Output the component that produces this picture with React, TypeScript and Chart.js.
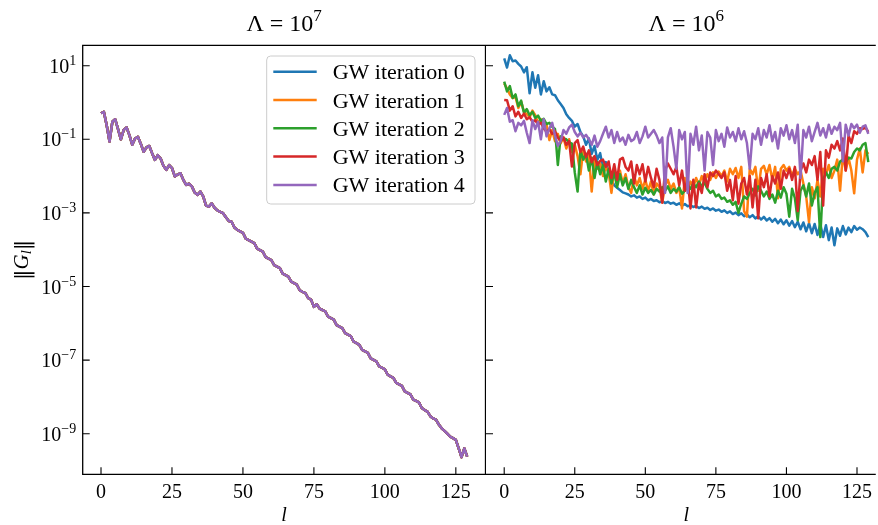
import React, { useEffect, useRef } from "react";
import { Chart, registerables } from "chart.js";
Chart.register(...registerables);

// ---------- data ----------
const ells: number[] = Array.from({ length: 130 }, (_, i) => i);

const seriesLabels = ["GW iteration 0", "GW iteration 1", "GW iteration 2", "GW iteration 3", "GW iteration 4"];
const COLORS = ["#1f77b4", "#ff7f0e", "#2ca02c", "#d62728", "#9467bd"];

const xTicks = [0, 25, 50, 75, 100, 125];
const yTicks = [1e1, 1e-1, 1e-3, 1e-5, 1e-7, 1e-9];
const yTickExponents = ["1", "\u22121", "\u22123", "\u22125", "\u22127", "\u22129"];
const panelTitleExponents = ["7", "6"];

// Lambda = 1e7 panel: all iterations coincide
const leftNorms = [
  5.1e-1, 5.6e-1, 2.4e-1, 8.7e-2, 3.0e-1, 3.5e-1, 1.9e-1, 1.0e-1, 1.8e-1, 2.1e-1,
  1.3e-1, 7.1e-2, 1.05e-1, 1.17e-1, 7.6e-2, 4.6e-2, 6.0e-2, 6.6e-2, 4.2e-2, 2.75e-2,
  3.7e-2, 3.0e-2, 1.9e-2, 1.48e-2, 2.0e-2, 1.66e-2, 9.8e-3, 1.1e-2, 1.2e-2, 7.9e-3,
  5.75e-3, 6.2e-3, 5.25e-3, 3.6e-3, 3.1e-3, 3.8e-3, 2.8e-3, 1.58e-3, 1.48e-3, 1.82e-3,
  1.38e-3, 1.17e-3, 1.07e-3, 9.8e-4, 7.6e-4, 6.0e-4, 5.75e-4, 4.0e-4, 3.47e-4, 3.16e-4,
  2.88e-4, 2.0e-4, 1.82e-4, 1.66e-4, 1.51e-4, 1.07e-4, 9.8e-5, 8.9e-5, 6.3e-5, 5.75e-5,
  5.25e-5, 3.8e-5, 3.47e-5, 3.16e-5, 2.24e-5, 2.04e-5, 1.86e-5, 1.35e-5, 1.23e-5, 1.12e-5,
  7.9e-6, 7.2e-6, 6.6e-6, 4.8e-6, 4.4e-6, 2.8e-6, 3.3e-6, 2.5e-6, 2.3e-6, 2.1e-6,
  1.51e-6, 1.38e-6, 1.26e-6, 8.9e-7, 8.1e-7, 7.4e-7, 5.4e-7, 4.9e-7, 4.5e-7, 3.16e-7,
  2.9e-7, 2.6e-7, 1.9e-7, 1.74e-7, 1.58e-7, 1.12e-7, 1.02e-7, 9.3e-8, 6.8e-8, 6.2e-8,
  5.6e-8, 4.0e-8, 3.6e-8, 3.3e-8, 2.4e-8, 2.2e-8, 2.0e-8, 1.41e-8, 1.29e-8, 1.17e-8,
  8.5e-9, 7.8e-9, 7.1e-9, 5.0e-9, 4.4e-9, 4.0e-9, 3.0e-9, 2.6e-9, 2.4e-9, 1.78e-9,
  1.41e-9, 1.2e-9, 1.0e-9, 8.3e-10, 7.6e-10, 6.8e-10, 4.0e-10, 2.3e-10, 4.0e-10, 2.4e-10,
];

// Lambda = 1e6 panel
const right0 = [
  15.8, 8.9, 19.1, 13.2, 13.8, 11.2, 9.5, 6.6, 9.1, 1.78,
  6.6, 2.5, 5.5, 1.66, 3.8, 2.0, 2.6, 1.66, 1.58, 1.15,
  9.1e-1, 7.1e-1, 4.8e-1, 3.8e-1, 3.16e-1, 2.2e-1, 2.6e-1, 1.58e-1, 1.2e-1, 7.1e-2,
  1.05e-1, 4.0e-2, 6.6e-2, 2.8e-2, 4.2e-2, 1.66e-2, 2.4e-2, 1.12e-2, 7.9e-3, 5.6e-3,
  4.8e-3, 4.2e-3, 3.6e-3, 3.4e-3, 3.16e-3, 2.8e-3, 3.0e-3, 2.6e-3, 2.8e-3, 2.4e-3,
  2.6e-3, 2.2e-3, 2.4e-3, 2.1e-3, 2.2e-3, 1.95e-3, 2.1e-3, 1.86e-3, 2.0e-3, 1.78e-3,
  1.9e-3, 1.66e-3, 1.82e-3, 1.58e-3, 1.74e-3, 1.51e-3, 1.62e-3, 1.45e-3, 1.55e-3, 1.35e-3,
  1.48e-3, 1.29e-3, 1.38e-3, 1.2e-3, 1.32e-3, 1.15e-3, 1.23e-3, 1.07e-3, 1.17e-3, 1.0e-3,
  1.1e-3, 9.3e-4, 1.02e-3, 8.7e-4, 9.8e-4, 8.1e-4, 9.1e-4, 7.6e-4, 8.7e-4, 7.1e-4,
  8.1e-4, 6.6e-4, 7.8e-4, 6.2e-4, 7.2e-4, 5.75e-4, 6.9e-4, 5.25e-4, 6.6e-4, 4.9e-4,
  6.3e-4, 4.5e-4, 6.0e-4, 4.1e-4, 5.75e-4, 3.6e-4, 5.5e-4, 3.16e-4, 5.25e-4, 2.8e-4,
  5.0e-4, 2.5e-4, 5.0e-4, 2.2e-4, 4.6e-4, 1.82e-4, 4.0e-4, 1.32e-4, 3.8e-4, 2.4e-4,
  4.4e-4, 2.6e-4, 4.0e-4, 3.0e-4, 4.4e-4, 3.5e-4, 4.0e-4, 3.6e-4, 3.0e-4, 2.2e-4,
];

const right1 = [
  3.3, 2.4, 1.66, 1.32, 1.41, 7.1e-1, 1.05, 5.6e-1, 4.8e-1, 4.0e-1,
  6.0e-1, 4.5e-1, 2.8e-1, 3.5e-1, 2.0e-1, 2.5e-1, 9.5e-2, 1.78e-1, 8.9e-2, 1.41e-1,
  7.9e-2, 1.12e-1, 5.6e-2, 1.0e-1, 4.5e-2, 7.1e-2, 3.5e-2, 1.12e-2, 5.0e-2, 2.5e-2,
  3.5e-2, 3.8e-3, 2.8e-2, 1.58e-2, 2.2e-2, 1.0e-2, 1.78e-2, 1.26e-2, 3.5e-3, 1.58e-2,
  7.9e-3, 1.41e-2, 6.3e-3, 1.12e-2, 5.0e-3, 3.5e-3, 1.0e-2, 5.6e-3, 8.9e-3, 4.5e-3,
  7.9e-3, 4.0e-3, 7.1e-3, 3.16e-3, 6.3e-3, 5.0e-3, 1.9e-3, 5.6e-3, 7.9e-3, 4.5e-3,
  6.3e-3, 3.5e-3, 5.0e-3, 1.32e-3, 8.9e-3, 4.0e-3, 7.1e-3, 5.0e-3, 8.9e-3, 5.6e-3,
  1.0e-2, 7.1e-3, 1.12e-2, 7.9e-3, 1.26e-2, 8.9e-3, 1.32e-2, 1.0e-2, 1.41e-2, 7.1e-3,
  1.58e-2, 1.12e-2, 1.66e-2, 8.9e-3, 1.78e-2, 1.12e-3, 7.9e-4, 1.58e-2, 1.12e-2, 1.78e-2,
  4.0e-3, 1.58e-2, 1.9e-2, 1.12e-2, 2.0e-2, 7.9e-3, 1.78e-2, 2.5e-3, 1.58e-2, 2.0e-2,
  1.41e-2, 1.78e-2, 1.0e-2, 1.58e-2, 1.12e-2, 1.41e-2, 6.3e-3, 2.8e-3, 5.6e-4, 5.0e-3,
  2.5e-3, 7.9e-3, 2.8e-3, 1.58e-2, 1.12e-2, 2.0e-2, 8.9e-3, 1.41e-2, 2.8e-2, 4.0e-3,
  4.0e-2, 1.41e-2, 3.16e-2, 1.41e-2, 3.4e-3, 2.8e-2, 5.6e-2, 1.26e-2, 5.0e-2, 4.0e-2,
];

const right2 = [
  3.7, 2.0, 2.8, 1.32, 1.66, 7.9e-1, 1.12, 5.25e-1, 6.6e-1, 4.5e-1,
  5.6e-1, 3.8e-1, 4.4e-1, 3.16e-1, 3.6e-1, 2.6e-1, 2.8e-1, 2.2e-1, 1.9e-1, 2.0e-2,
  1.2e-1, 1.05e-1, 1.0e-1, 8.3e-2, 7.6e-2, 1.26e-2, 3.8e-3, 5.0e-2, 2.8e-2, 4.0e-2,
  1.41e-2, 3.16e-2, 8.9e-3, 2.4e-2, 1.12e-2, 2.0e-2, 7.1e-3, 1.58e-2, 6.3e-3, 1.26e-2,
  5.0e-3, 1.12e-2, 5.6e-3, 8.9e-3, 4.5e-3, 7.9e-3, 5.0e-3, 3.5e-3, 5.6e-3, 3.16e-3,
  4.8e-3, 3.5e-3, 4.2e-3, 3.16e-3, 4.5e-3, 3.8e-3, 5.0e-3, 4.0e-3, 5.25e-3, 3.5e-3,
  4.5e-3, 3.8e-3, 5.0e-3, 3.3e-3, 4.0e-3, 5.6e-3, 4.5e-3, 6.3e-3, 5.0e-3, 7.1e-3,
  5.25e-3, 6.6e-3, 4.5e-3, 3.5e-3, 4.0e-3, 2.8e-3, 3.16e-3, 2.4e-3, 2.6e-3, 2.0e-3,
  2.2e-3, 1.66e-3, 2.0e-3, 1.0e-3, 1.78e-3, 2.8e-3, 2.4e-3, 3.5e-3, 4.5e-3, 3.0e-3,
  5.25e-3, 4.0e-3, 2.8e-3, 3.8e-3, 2.4e-3, 3.16e-3, 1.9e-3, 4.0e-3, 2.6e-3, 5.0e-3,
  3.3e-3, 7.9e-4, 4.5e-3, 2.5e-3, 6.3e-4, 4.0e-3, 5.6e-3, 2.8e-3, 6.3e-3, 1.58e-3,
  3.5e-3, 5.0e-3, 2.2e-4, 7.9e-3, 1.26e-2, 8.9e-3, 1.58e-2, 1.78e-2, 1.41e-2, 2.5e-2,
  2.8e-2, 2.4e-2, 3.16e-2, 3.0e-2, 4.5e-2, 5.6e-2, 5.0e-2, 7.1e-2, 7.9e-2, 2.4e-2,
];

const right3 = [
  1.17, 1.15, 6.0e-1, 7.9e-1, 4.2e-1, 5.6e-1, 3.8e-1, 5.0e-1, 3.5e-1, 4.0e-1,
  3.0e-1, 3.3e-1, 2.5e-1, 2.8e-1, 2.0e-1, 1.58e-1, 1.9e-1, 1.41e-1, 1.66e-1, 1.12e-1,
  8.9e-2, 1.12e-1, 7.1e-2, 8.9e-2, 1.82e-2, 7.9e-2, 9.5e-2, 4.5e-2, 6.3e-2, 3.3e-2,
  5.0e-2, 2.4e-2, 3.5e-2, 2.0e-2, 2.6e-2, 2.8e-2, 1.78e-2, 2.5e-2, 8.9e-3, 2.1e-2,
  7.9e-3, 2.8e-2, 3.16e-2, 1.78e-2, 1.41e-2, 2.5e-2, 6.3e-3, 2.0e-2, 1.12e-2, 2.1e-2,
  7.1e-3, 1.78e-2, 8.9e-3, 5.0e-3, 1.58e-2, 7.9e-3, 1.9e-3, 1.41e-2, 2.2e-2, 1.58e-2,
  1.12e-2, 1.78e-2, 5.6e-3, 1.41e-2, 4.0e-3, 8.9e-3, 1.32e-3, 7.9e-3, 1.41e-3, 6.3e-3,
  3.5e-3, 1.12e-2, 5.0e-3, 1.26e-2, 1.0e-2, 1.41e-2, 1.12e-2, 8.9e-3, 1.26e-2, 4.0e-3,
  7.9e-3, 2.2e-3, 1.0e-2, 1.78e-3, 6.3e-3, 8.9e-3, 3.16e-3, 1.0e-2, 1.41e-3, 7.9e-3,
  7.1e-4, 8.9e-3, 5.0e-3, 1.12e-2, 2.8e-3, 1.0e-2, 6.3e-3, 1.26e-2, 4.5e-3, 1.41e-2,
  8.9e-3, 1.58e-2, 7.9e-3, 1.78e-2, 1.12e-3, 1.41e-2, 2.2e-2, 1.26e-2, 2.8e-2, 2.0e-2,
  3.5e-2, 7.9e-3, 4.5e-2, 1.58e-3, 5.0e-2, 3.16e-2, 7.1e-2, 5.6e-2, 8.9e-2, 5.0e-2,
  1.05e-1, 1.41e-2, 1.26e-1, 7.9e-2, 1.66e-1, 1.41e-1, 2.0e-1, 1.9e-1, 2.1e-1, 1.58e-1,
];

const right4 = [
  4.6e-1, 7.1e-1, 3.0e-1, 3.3e-1, 1.66e-1, 2.8e-1, 2.4e-1, 3.16e-1, 1.51e-1, 7.9e-2,
  3.3e-1, 1.9e-1, 3.0e-1, 1.0e-1, 3.5e-1, 1.2e-1, 2.0e-1, 2.8e-1, 1.26e-1, 6.6e-2,
  8.9e-2, 1.78e-1, 1.41e-1, 2.1e-1, 2.5e-1, 1.58e-1, 1.2e-1, 1.51e-1, 1.12e-1, 1.32e-1,
  1.0e-1, 7.1e-2, 1.26e-1, 6.3e-2, 8.9e-2, 1.41e-1, 2.2e-1, 1.12e-1, 1.78e-1, 7.9e-2,
  1.58e-1, 8.9e-2, 1.12e-1, 7.1e-2, 1.32e-1, 8.9e-2, 1.0e-1, 1.58e-1, 7.9e-2, 1.2e-1,
  2.2e-1, 1.12e-1, 1.41e-1, 1.78e-1, 1.26e-1, 7.9e-2, 1.12e-1, 3.5e-3, 1.12e-1, 2.0e-1,
  6.3e-2, 1.58e-2, 1.78e-1, 1.0e-1, 1.58e-1, 3.5e-3, 1.41e-1, 7.1e-2, 2.2e-1, 5.0e-2,
  1.26e-1, 1.41e-2, 1.58e-1, 1.12e-1, 2.0e-2, 1.78e-1, 8.9e-2, 1.41e-1, 6.3e-2, 2.1e-1,
  1.12e-1, 1.58e-1, 8.9e-2, 2.0e-1, 1.0e-1, 1.66e-1, 7.9e-2, 1.58e-2, 1.41e-1, 1.0e-1,
  2.0e-1, 7.1e-2, 1.78e-1, 1.12e-1, 2.4e-1, 8.9e-2, 1.58e-1, 5.6e-2, 2.0e-1, 1.26e-1,
  2.4e-1, 1.0e-1, 1.78e-1, 7.9e-2, 2.5e-1, 8.9e-3, 1.78e-1, 1.12e-1, 2.2e-1, 8.9e-2,
  1.58e-1, 2.8e-1, 1.26e-1, 2.0e-1, 1.12e-1, 2.5e-1, 1.41e-1, 2.2e-1, 1.78e-1, 2.8e-1,
  2.5e-2, 2.5e-1, 1.26e-1, 2.6e-1, 2.0e-1, 2.5e-1, 1.51e-1, 2.2e-1, 2.4e-1, 1.41e-1,
];

// ---------- layout / style ----------
const Y_MIN = 7.9e-11;
const Y_MAX = 35.8;
const X_MIN = -6.45;
const X_MAX_FULL = 135.45;
const X_MAX_RIGHT = 131.65;
const SERIF = "'Liberation Serif', 'DejaVu Serif', serif";
const BARS = "'DejaVu Serif', serif";

type Piece = { text: string; font: string; dy?: number };

function drawPieces(ctx: CanvasRenderingContext2D, pieces: Piece[], x: number, y: number, align: "left" | "center" | "right") {
  let total = 0;
  const widths = pieces.map((p) => {
    ctx.font = p.font;
    const w = ctx.measureText(p.text).width;
    total += w;
    return w;
  });
  let cx = align === "left" ? x : align === "center" ? x - total / 2 : x - total;
  ctx.textAlign = "left";
  ctx.textBaseline = "alphabetic";
  pieces.forEach((p, i) => {
    ctx.font = p.font;
    ctx.fillText(p.text, cx, y + (p.dy || 0));
    cx += widths[i];
  });
}

function makeDeco(side: "left" | "right") {
  return {
    id: "deco-" + side,
    afterDraw(chart: any) {
      const { ctx, chartArea: a } = chart;
      const xs = chart.scales.x;
      const ys = chart.scales.y;
      ctx.save();
      ctx.strokeStyle = "#000";
      ctx.fillStyle = "#000";
      // spines
      ctx.lineWidth = 1.3;
      ctx.beginPath();
      if (side === "left") {
        ctx.rect(a.left, a.top, a.right - a.left, a.bottom - a.top);
      } else {
        ctx.moveTo(a.left, a.top);
        ctx.lineTo(a.right, a.top);
        ctx.moveTo(a.left, a.bottom);
        ctx.lineTo(a.right, a.bottom);
      }
      ctx.stroke();
      // inward ticks
      ctx.lineWidth = 1.1;
      ctx.beginPath();
      xTicks.forEach((v) => {
        const px = xs.getPixelForValue(v);
        ctx.moveTo(px, a.bottom);
        ctx.lineTo(px, a.bottom - 7);
      });
      yTicks.forEach((v) => {
        const py = ys.getPixelForValue(v);
        ctx.moveTo(a.left, py);
        ctx.lineTo(a.left + 7, py);
      });
      ctx.stroke();

      // y tick labels
      if (side === "left") {
        yTicks.forEach((v, i) => {
          const py = ys.getPixelForValue(v);
          drawPieces(
            ctx,
            [
              { text: "10", font: `20px ${SERIF}` },
              { text: yTickExponents[i], font: `14px ${SERIF}`, dy: -8 },
            ],
            a.left - 6.5,
            py + 7,
            "right"
          );
        });
      }

      const cx = xs.getPixelForValue((X_MIN + X_MAX_FULL) / 2);
      // title
      drawPieces(
        ctx,
        [
          { text: "\u039B", font: `24px ${SERIF}` },
          { text: " = ", font: `24px ${SERIF}` },
          { text: "10", font: `24px ${SERIF}` },
          { text: panelTitleExponents[side === "left" ? 0 : 1], font: `17px ${SERIF}`, dy: -10 },
        ],
        cx,
        31,
        "center"
      );
      // x label
      drawPieces(ctx, [{ text: "l", font: `italic 20px ${SERIF}` }], cx, 521, "center");

      if (side === "left") {
        // y label
        ctx.save();
        ctx.translate(28, (a.top + a.bottom) / 2);
        ctx.rotate(-Math.PI / 2);
        drawPieces(
          ctx,
          [
            { text: "\u2016", font: `21px ${BARS}`, dy: 1 },
            { text: "G", font: `italic 21px ${SERIF}` },
            { text: "l", font: `italic 15px ${SERIF}`, dy: 3 },
            { text: "\u2016", font: `21px ${BARS}`, dy: 1 },
          ],
          0,
          0,
          "center"
        );
        ctx.restore();

        // legend
        const bx = 266.7, by = 56, bw = 208.3, bh = 148;
        ctx.beginPath();
        ctx.roundRect(bx, by, bw, bh, 4);
        ctx.fillStyle = "rgba(255,255,255,0.8)";
        ctx.fill();
        ctx.strokeStyle = "#cccccc";
        ctx.lineWidth = 1;
        ctx.stroke();
        chart.data.datasets.forEach((ds: any, i: number) => {
          const yy = 71.7 + i * 28.3;
          ctx.strokeStyle = ds.borderColor;
          ctx.lineWidth = 2.5;
          ctx.beginPath();
          ctx.moveTo(273.3, yy);
          ctx.lineTo(316.7, yy);
          ctx.stroke();
          ctx.fillStyle = "#000";
          drawPieces(ctx, [{ text: ds.label, font: `22px ${SERIF}` }], 332.7, yy + 7.5, "left");
        });
      }
      ctx.restore();
    },
  };
}

function buildDatasets(series: number[][]) {
  return series.map((vals, i) => ({
    label: seriesLabels[i],
    data: vals.map((v, j) => ({ x: ells[j], y: v })),
    borderColor: COLORS[i],
    backgroundColor: COLORS[i],
    borderWidth: 2.5,
    pointRadius: 0,
    tension: 0,
    fill: false,
    borderJoinStyle: "round" as const,
    order: series.length - 1 - i,
  }));
}

function makeConfig(side: "left" | "right"): any {
  const series = side === "left" ? [leftNorms, leftNorms, leftNorms, leftNorms, leftNorms] : [right0, right1, right2, right3, right4];
  return {
    type: "line",
    data: { datasets: buildDatasets(series) },
    options: {
      animation: false,
      responsive: false,
      devicePixelRatio: 1,
      events: [],
      layout: { padding: { top: 45.3, right: side === "left" ? 0.5 : 0, bottom: 0, left: 0 } },
      plugins: { legend: { display: false }, tooltip: { enabled: false }, title: { display: false } },
      scales: {
        x: {
          type: "linear",
          min: X_MIN,
          max: side === "left" ? X_MAX_FULL : X_MAX_RIGHT,
          grid: { display: false, drawTicks: false },
          border: { display: false },
          afterBuildTicks: (s: any) => {
            s.ticks = xTicks.map((v) => ({ value: v }));
          },
          afterFit: (s: any) => {
            s.height = 50.7;
          },
          ticks: {
            font: { family: SERIF, size: 20 },
            color: "#000",
            padding: 6,
            maxRotation: 0,
            autoSkip: false,
            callback: (v: any) => String(v),
          },
        },
        y: {
          type: "logarithmic",
          display: side === "left",
          min: Y_MIN,
          max: Y_MAX,
          grid: { display: false, drawTicks: false },
          border: { display: false },
          afterBuildTicks: (s: any) => {
            s.ticks = yTicks.map((v) => ({ value: v }));
          },
          afterFit: (s: any) => {
            s.width = side === "left" ? 82.7 : 0;
          },
          ticks: { callback: () => "" },
        },
      },
    },
    plugins: [makeDeco(side)],
  };
}

export default function App() {
  const leftRef = useRef<HTMLCanvasElement>(null);
  const rightRef = useRef<HTMLCanvasElement>(null);
  useEffect(() => {
    const c1 = new Chart(leftRef.current as HTMLCanvasElement, makeConfig("left"));
    const c2 = new Chart(rightRef.current as HTMLCanvasElement, makeConfig("right"));
    return () => {
      c1.destroy();
      c2.destroy();
    };
  }, []);
  return (
    <div style={{ position: "absolute", left: 0, top: 0, width: 878, height: 525, background: "#fff", overflow: "hidden" }}>
      <canvas ref={leftRef} width={486} height={525} style={{ position: "absolute", left: 0, top: 0, width: 486, height: 525 }} />
      <canvas ref={rightRef} width={392} height={525} style={{ position: "absolute", left: 486, top: 0, width: 392, height: 525 }} />
    </div>
  );
}
